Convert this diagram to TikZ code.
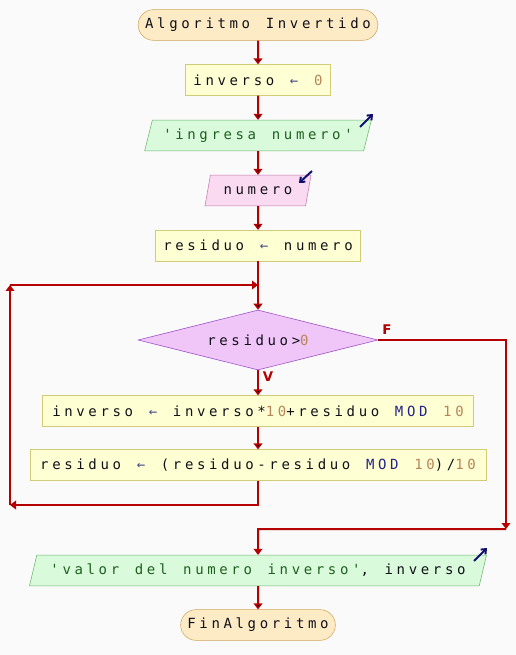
\documentclass[tikz,border=0pt]{standalone}
\usepackage{fontspec}
\usetikzlibrary{arrows.meta,shapes.geometric,shapes.misc}
\newfontfamily\psfont[LetterSpace=26,WordSpace=1.3,Ligatures=TeXOff]{DejaVu Sans Mono}
\newfontfamily\lblfont{DejaVu Sans}
\definecolor{fondo}{HTML}{FAFAFA}
\definecolor{flecha}{HTML}{B40000}
\definecolor{termfill}{HTML}{FDEBC6}
\definecolor{termdraw}{HTML}{CFA55A}
\definecolor{procfill}{HTML}{FFFFD4}
\definecolor{procdraw}{HTML}{D2CC78}
\definecolor{iofill}{HTML}{D9FADB}
\definecolor{iodraw}{HTML}{6DB46D}
\definecolor{lectfill}{HTML}{F9DAF0}
\definecolor{lectdraw}{HTML}{C678B0}
\definecolor{condfill}{HTML}{F0C6F8}
\definecolor{conddraw}{HTML}{9446C4}
\definecolor{txt}{HTML}{101018}
\definecolor{numtxt}{HTML}{B8845A}
\definecolor{strtxt}{HTML}{1E601E}
\definecolor{optxt}{HTML}{22228A}
\definecolor{asigtxt}{HTML}{4A4A88}
\definecolor{icono}{HTML}{10106E}
\newcommand{\nm}[1]{\textcolor{numtxt}{#1}}
\newcommand{\st}[1]{\textcolor{strtxt}{#1}}
\newcommand{\op}[1]{\textcolor{optxt}{#1}}
\newcommand{\asig}{\textcolor{asigtxt}{←}}

\begin{document}
\begin{tikzpicture}[x=0.75pt, y=-0.75pt,
    every node/.style={font=\psfont\fontsize{10.5pt}{12pt}\selectfont, text=txt, inner sep=2pt},
    term/.style={rounded rectangle, draw=termdraw, fill=termfill, minimum width=183.75pt, minimum height=23pt},
    proc/.style={rectangle, draw=procdraw, fill=procfill, minimum height=23pt},
    entsal/.style={trapezium, trapezium left angle=68, trapezium right angle=112, trapezium stretches body, draw=iodraw, fill=iofill, minimum height=23pt},
    lect/.style={entsal, draw=lectdraw, fill=lectfill},
    cond/.style={diamond, aspect=4, draw=conddraw, fill=condfill, minimum width=180pt, minimum height=45pt, inner sep=0pt},
    flow/.style={-{Triangle[width=6.5pt,length=4.5pt]}, draw=flecha, line width=1.5pt},
    icon/.style={-{Straight Barb[width=5pt,length=3pt]}, draw=icono, line width=1.5pt},
    lbl/.style={font=\lblfont\bfseries\fontsize{10pt}{12pt}\selectfont, text=flecha, inner sep=0pt}]

    \fill[fondo] (0,0) rectangle (516,655);
    \useasboundingbox (0,0) rectangle (516,655);

    \node[term] (ini) at (258,25) {Algoritmo Invertido};
    \node[proc, minimum width=108.75pt] (inv0) at (258,80) {inverso \asig{} \nm{0}};
    \node[entsal, minimum width=170pt] (leer) at (258,135.5) {\st{'ingresa numero'}};
    \node[lect, minimum width=79.5pt] (num) at (258,190.5) {numero};
    \node[proc, minimum width=153.75pt] (res0) at (258,245.5) {residuo \asig{} numero};
    \node[cond] (mientras) at (258,340) {residuo>\nm{0}};
    \node[proc, minimum width=323.25pt] (acum) at (258,411) {inverso \asig{} inverso*\nm{10}+residuo \op{MOD} \nm{10}};
    \node[proc, minimum width=342pt] (divi) at (258,465) {residuo \asig{} (residuo-residuo \op{MOD} \nm{10})/\nm{10}};
    \node[entsal, minimum width=342.75pt] (escr) at (258,570.5) {\st{'valor del numero inverso'}, inverso};
    \node[term, minimum width=120pt] (fin) at (258,625) {FinAlgoritmo};

    \node[lbl] (vf) at (387,330) {F};
    \node[lbl] (vv) at (268,377) {V};

    \coordinate (junta) at (258,285);
    \coordinate (abajo) at (258,505);
    \coordinate (izqa) at (10,505);
    \coordinate (izqb) at (10,285);
    \coordinate (dera) at (506,340);
    \coordinate (derb) at (506,529);
    \coordinate (sale) at (258,529);

    \path[flow]
        (ini) edge (inv0)
        (inv0) edge (leer)
        (leer) edge (num)
        (num) edge (res0)
        (res0) edge (mientras)
        (mientras) edge (acum)
        (acum) edge (divi)
        (escr) edge (fin)
        ;
    \draw[flow] (divi) -- (abajo) -- (izqa);
    \draw[flow] (izqa) -- (izqb);
    \draw[flow] (izqb) -- (junta);
    \draw[flow] (mientras.east) -- (dera) -- (derb);
    \draw[flow] (derb) -- (sale) -- (escr);

    % iconos de entrada / salida
    \draw[icon] (360,127) -- (373,114);
    \draw[icon] (312,171) -- (299,183);
    \draw[icon] (474,561) -- (487,548);
\end{tikzpicture}
\end{document}
